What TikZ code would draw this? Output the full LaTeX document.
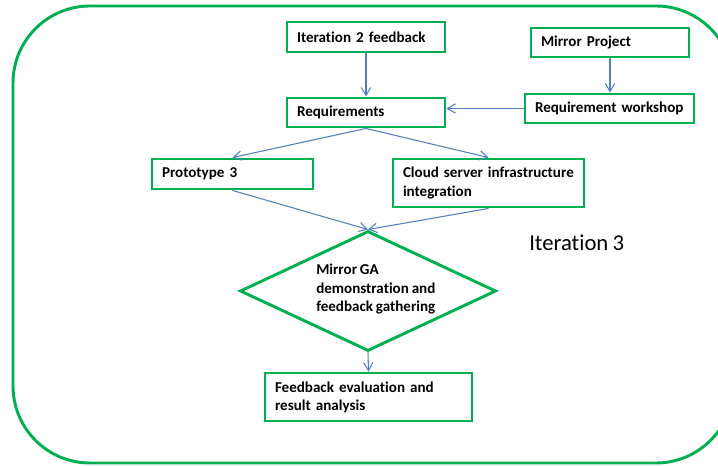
\documentclass[tikz,border=0pt]{standalone}
\usepackage{fontspec}
\setmainfont{Carlito}[Ligatures=NoCommon, WordSpace=0.85]
\usetikzlibrary{arrows.meta,shapes.geometric}
\definecolor{boxgreen}{RGB}{0,176,80}
\definecolor{linkblue}{RGB}{79,129,189}
\tikzset{
  stepbox/.style n args={3}{draw=boxgreen, line width=2.2pt, rectangle,
    inner xsep=7.5pt, inner ysep=0pt, align=left,
    font=\bfseries\fontsize{11.3}{13.6}\selectfont,
    minimum width=#1, text width=#2, minimum height=#3},
  decision/.style={draw=boxgreen, line width=2.2pt, diamond, inner sep=0pt,
    minimum width=192pt, minimum height=90pt},
  plain/.style={inner sep=0pt, align=left,
    font=\bfseries\fontsize{11.3}{13.6}\selectfont},
  link/.style={draw=linkblue, line width=0.8pt,
    -{Straight Barb[length=6pt,width=7pt]}}
}
\begin{document}
\begin{tikzpicture}[x=0.75pt,y=-0.75pt]
\clip (0,0) rectangle (718,466);

% frame of the iteration
\draw[boxgreen, line width=2.2pt, rounded corners=57.75pt] (13,6) rectangle (733,463);

\node[inner sep=0pt, anchor=base west, font=\fontsize{17}{20}\selectfont] (itlabel) at (529,251) {Iteration 3};

% process steps
\node[stepbox={118.5pt}{103.5pt}{22.5pt}] (it2) at (366,37) {Iteration 2 feedback};
\node[stepbox={118.5pt}{103.5pt}{21.75pt}] (mirror) at (610,42.5) {Mirror Project};
\node[stepbox={118.5pt}{103.5pt}{21.75pt}] (req) at (366,112.5) {Requirements};
\node[stepbox={126.75pt}{111.75pt}{21.75pt}] (workshop) at (609.5,108.5) {Requirement~workshop};
\node[stepbox={120.75pt}{105.75pt}{22.5pt}] (proto) at (232.5,174) {Prototype 3};
\node[stepbox={143.25pt}{128.25pt}{36pt}] (cloud) at (488.5,183) {Cloud~server~infrastructure\\integration};
\node[decision] (ga) at (368,291) {};
\node[plain, anchor=west] (gatext) at (316,289) {Mirror GA\\demonstration and\\feedback gathering};
\node[stepbox={155.25pt}{140.25pt}{36pt}] (feedback) at (368.5,397) {Feedback evaluation and\\result analysis};

% connectors
\draw[link] (it2.south) -- (req.north);
\draw[link] (mirror.south) -- (mirror.south |- workshop.north);
\draw[link] (workshop.west) -- (workshop.west -| req.east);
\draw[link] (req.south) -- (proto.north);
\draw[link] (req.south) -- (cloud.north);
\draw[link] (proto.south) -- (ga.north);
\draw[link] (cloud.south) -- (ga.north);
\draw[link] (ga.south) -- (feedback.north);
\end{tikzpicture}
\end{document}
